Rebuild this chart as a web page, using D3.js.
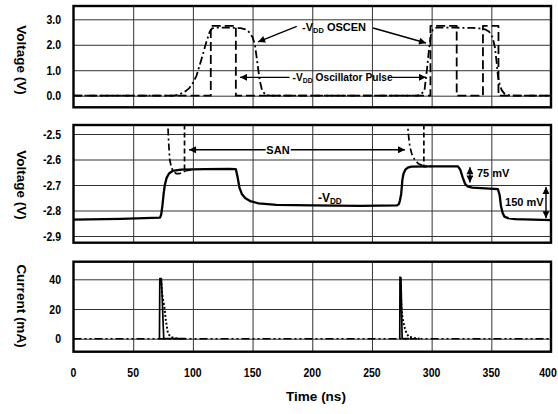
<!DOCTYPE html>
<html><head><meta charset="utf-8">
<script src="https://cdn.jsdelivr.net/npm/d3@7"></script>
<style>
html,body{margin:0;padding:0;background:#fff;}
svg{display:block;}
text{font-family:"Liberation Sans",Arial,Helvetica,sans-serif;font-weight:bold;fill:#000;}
</style></head><body>
<svg id="c" width="558" height="414"></svg>
<script>
// ---------- DATA ----------
const timeTicks = [0, 50, 100, 150, 200, 250, 300, 350, 400];
const timeTickLabels = ["0", "50", "100", "150", "200", "250", "300", "350", "400"];
const topTicks = [0, 1, 2, 3];
const topTickLabels = ["0.0", "1.0", "2.0", "3.0"];
const midTicks = [-2.9, -2.8, -2.7, -2.6, -2.5];
const midTickLabels = ["-2.9", "-2.8", "-2.7", "-2.6", "-2.5"];
const botTicks = [0, 20, 40];
const botTickLabels = ["0", "20", "40"];

// -VDD OSCEN (dash-dot)
const oscenT = [0, 84, 88, 91, 94, 97, 100, 103, 107, 111, 114, 116, 120, 130, 140, 144, 147, 150, 152, 154, 156, 158, 161, 165,
  288, 291, 294, 296, 298, 299.5, 301, 304, 320, 335, 340, 345, 348, 351, 353, 354.5, 355.6, 357, 358.7, 361, 366, 400];
const oscenV = [0, 0, 0.04, 0.1, 0.18, 0.3, 0.5, 0.78, 1.4, 2.06, 2.5, 2.64, 2.67, 2.67, 2.65, 2.6, 2.5, 2.3, 2.0, 1.3, 0.6, 0.2, 0.03, 0,
  0, 0.05, 0.2, 1.0, 1.9, 2.4, 2.6, 2.67, 2.67, 2.66, 2.64, 2.6, 2.52, 2.3, 1.9, 1.3, 0.75, 0.45, 0.22, 0.08, 0, 0];
// -VDD Oscillator Pulse (dashed)
const pulseT = [0, 115, 115, 136, 136, 299, 299, 321, 321, 343, 343, 356, 356, 400];
const pulseV = [0, 0, 2.74, 2.74, 0, 0, 2.74, 2.74, 0, 0, 2.74, 2.74, 0, 0];

// -VDD (solid)
const vddT = [0, 40, 72.5, 73.5, 74.5, 75.5, 76.5, 78, 80, 83, 90, 110, 130, 136, 137.5, 139, 141, 144, 148, 155, 170, 200, 240,
  271, 272.5, 273.5, 274.5, 275.5, 276.5, 278, 280, 283, 300, 322, 324, 326, 328, 330, 334, 345, 355.5, 357, 358, 359.5, 361, 364, 370, 385, 400];
const vddV = [-2.836, -2.833, -2.828, -2.815, -2.78, -2.735, -2.7, -2.672, -2.655, -2.645, -2.64, -2.638, -2.637, -2.638, -2.67, -2.71, -2.735, -2.752, -2.763, -2.772, -2.778, -2.78, -2.782,
  -2.78, -2.775, -2.76, -2.735, -2.68, -2.655, -2.64, -2.632, -2.628, -2.627, -2.627, -2.64, -2.67, -2.695, -2.705, -2.71, -2.713, -2.716, -2.74, -2.78, -2.81, -2.824, -2.83, -2.834, -2.836, -2.838];
// SAN (dash-dot), off-scale above before each event
const sanT = [78.8, 79.2, 79.8, 80.6, 82, 84, 86, 89, 92, 96, null,
  279.8, 280.3, 281, 281.8, 283.5, 286, 289, 292, 296];
const sanV = [-2.42, -2.48, -2.54, -2.6, -2.632, -2.648, -2.655, -2.655, -2.648, -2.642, null,
  -2.44, -2.49, -2.52, -2.55, -2.58, -2.602, -2.617, -2.623, -2.626];
// companion dashed trace
const san2T = [93, 93, 100, null, 293.5, 293.5, 300];
const san2V = [-2.40, -2.645, -2.64, null, -2.40, -2.628, -2.627];

// Current: solid spike, dotted decay, dash-dot-dot baseline
const curSolidT = [72, 72.3, 73.6, 74.3, 75, 75.6, 94, null, 273.3, 273.5, 274.3, 274.8, 275.3, 281];
const curSolidI = [0, 40.5, 40.5, 28, 12, 0, 0, null, 0, 41.5, 41, 22, 0, 0];
const curDotT = [72.5, 73.5, 74.3, 74.9, 76.3, 77.1, 78.2, 79.1, 81.3, 85, 88, null,
  273.7, 274.3, 274.8, 275.3, 276.2, 277.6, 279, 280.9, 286, 290];
const curDotI = [40, 38, 30, 27, 20.5, 13.8, 8.1, 3.6, 1.3, 0.3, 0, null,
  40, 30, 20.5, 16, 11.4, 7, 3.6, 1.3, 0.4, 0];
const curBaseT = [0, 400];
const curBaseI = [0, 0];

// ---------- CHART ----------
const svg = d3.select("#c");
const X0 = 73.5, X1 = 551;
const NARROW = 0.84;
const x = d3.scaleLinear().domain([0, 400]).range([X0, X1]);

const panels = [
  { top: 6, bottom: 107.3, y: d3.scaleLinear().domain([0, 3]).range([95.7, 19.3]), ticks: topTicks, labels: topTickLabels, title: "Voltage (V)", titleY: 60 },
  { top: 125, bottom: 242.7, y: d3.scaleLinear().domain([-2.9, -2.5]).range([236, 134]), ticks: midTicks, labels: midTickLabels, title: "Voltage (V)", titleY: 185 },
  { top: 261.7, bottom: 351.7, y: d3.scaleLinear().domain([0, 40]).range([338.7, 279.3]), ticks: botTicks, labels: botTickLabels, title: "Current (mA)", titleY: 306 }
];

const defs = svg.append("defs");
defs.append("marker").attr("id", "ah").attr("viewBox", "0 0 10 10").attr("refX", 10).attr("refY", 5)
  .attr("markerWidth", 9).attr("markerHeight", 7).attr("markerUnits", "userSpaceOnUse").attr("orient", "auto-start-reverse")
  .append("path").attr("d", "M0,0 L10,5 L0,10 z").attr("fill", "#000");

panels.forEach((p, i) => {
  defs.append("clipPath").attr("id", "clip" + i).append("rect")
    .attr("x", X0).attr("y", p.top).attr("width", X1 - X0).attr("height", p.bottom - p.top);
  // horizontal grid + labels
  const ga = svg.append("g").attr("transform", `translate(${X0},0)`)
    .call(d3.axisLeft(p.y).tickValues(p.ticks).tickFormat((d, k) => p.labels[k]).tickSize(-(X1 - X0)).tickPadding(12));
  ga.select(".domain").remove();
  ga.selectAll("line").attr("stroke", "#333").attr("stroke-width", 1);
  ga.selectAll("text").attr("font-size", 12.5).attr("fill", "#000")
    .attr("font-family", "'Liberation Sans', Arial, sans-serif")
    .attr("x", -12.5 / NARROW).attr("transform", `scale(${NARROW},1)`);
  // vertical grid
  const gx = svg.append("g").attr("transform", `translate(0,${p.bottom})`)
    .call(d3.axisBottom(x).tickValues(timeTicks.slice(1, -1)).tickSize(-(p.bottom - p.top)).tickFormat(""));
  gx.select(".domain").remove();
  gx.selectAll("line").attr("stroke", "#333").attr("stroke-width", 1);
  // frame
  svg.append("rect").attr("x", X0).attr("y", p.top).attr("width", X1 - X0).attr("height", p.bottom - p.top)
    .attr("fill", "none").attr("stroke", "#000").attr("stroke-width", 2.4);
  // title
  svg.append("text").attr("font-size", 13.5)
    .attr("transform", `translate(16.5,${p.titleY}) rotate(90)`).attr("text-anchor", "middle").text(p.title);
  p.g = svg.append("g").attr("clip-path", `url(#clip${i})`);
});

function drawSeries(p, ts, vs, style) {
  const pts = ts.map((t, k) => [t, vs[k]]);
  const line = d3.line().defined(d => d[0] !== null && d[1] !== null).x(d => x(d[0])).y(d => p.y(d[1]));
  p.g.append("path").datum(pts).attr("d", line).attr("fill", "none").attr("stroke", "#000")
    .attr("stroke-width", style.w).attr("stroke-dasharray", style.dash || null).attr("stroke-linejoin", "round");
}

const [P0, P1, P2] = panels;
drawSeries(P0, oscenT, oscenV, { w: 1.8, dash: "8,3,2,3" });
drawSeries(P0, pulseT, pulseV, { w: 1.8, dash: "9,4" });
drawSeries(P1, vddT, vddV, { w: 2.3 });
drawSeries(P1, sanT, sanV, { w: 1.7, dash: "7,3,2,3" });
drawSeries(P1, san2T, san2V, { w: 1.7, dash: "5,3" });
drawSeries(P2, curBaseT, curBaseI, { w: 1.6, dash: "8,3,2,3,2,3" });
drawSeries(P2, curDotT, curDotI, { w: 1.9, dash: "2,2" });
drawSeries(P2, curSolidT, curSolidI, { w: 1.7 });

// x tick labels + title
svg.append("g").selectAll("text").data(timeTicks).join("text")
  .attr("transform", d => `translate(${Math.min(x(d), 548)},376.5) scale(${NARROW},1)`)
  .attr("text-anchor", "middle").attr("font-size", 12.5)
  .text((d, k) => timeTickLabels[k]);
svg.append("text").attr("x", 316).attr("y", 401).attr("text-anchor", "middle")
  .attr("font-size", 13.5).text("Time (ns)");

// ---------- annotations ----------
function arrow(p, t1, v1, t2, v2, both) {
  svg.append("line").attr("x1", x(t1)).attr("y1", p.y(v1)).attr("x2", x(t2)).attr("y2", p.y(v2))
    .attr("stroke", "#000").attr("stroke-width", 1.4).attr("marker-end", "url(#ah)")
    .attr("marker-start", both ? "url(#ah)" : null);
}
function vddLabel(p, t, v, rest, size) {
  const tx = svg.append("text").attr("x", x(t)).attr("y", p.y(v)).attr("font-size", size);
  tx.append("tspan").text("-V");
  tx.append("tspan").attr("font-size", size * 0.68).attr("dy", 2).text("DD");
  if (rest) tx.append("tspan").attr("dy", -2).text(rest);
}
vddLabel(P0, 191.5, 2.54, " OSCEN", 11);
arrow(P0, 187, 2.72, 154.6, 2.11);
arrow(P0, 251, 2.66, 295.3, 2.07);
vddLabel(P0, 183.5, 0.58, " Oscillator Pulse", 10.2);
arrow(P0, 181, 0.72, 139.5, 0.72);
arrow(P0, 266.5, 0.72, 295.3, 0.72);

svg.append("text").attr("x", x(171.3)).attr("y", P1.y(-2.578)).attr("text-anchor", "middle").attr("font-size", 11).text("SAN");
arrow(P1, 161, -2.562, 96.8, -2.562);
arrow(P1, 182, -2.562, 277.7, -2.562);
vddLabel(P1, 204.8, -2.767, "", 12);
arrow(P1, 332.1, -2.63, 332.1, -2.69, true);
svg.append("text").attr("x", x(338)).attr("y", P1.y(-2.669)).attr("font-size", 11).text("75 mV");
arrow(P1, 395.8, -2.708, 395.8, -2.83, true);
svg.append("text").attr("x", x(361.5)).attr("y", P1.y(-2.782)).attr("font-size", 11).text("150 mV");
</script>
</body></html>
